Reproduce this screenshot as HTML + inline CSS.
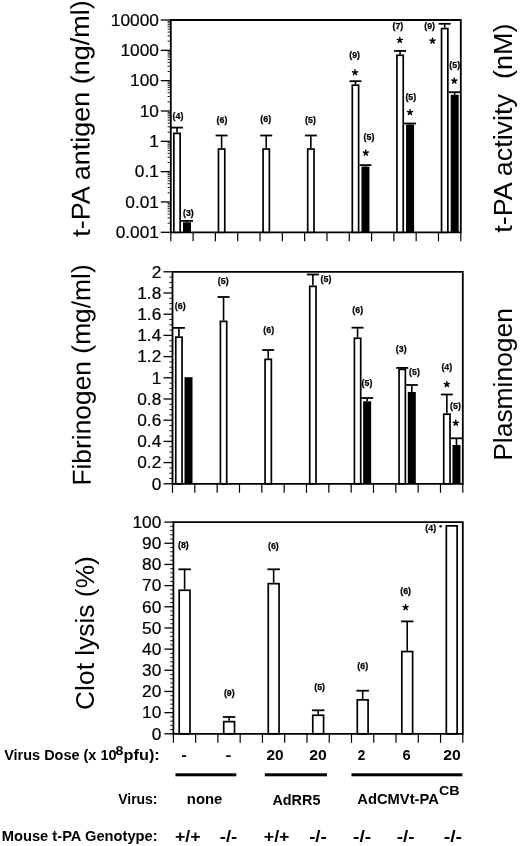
<!DOCTYPE html>
<html><head><meta charset="utf-8"><style>
html,body{margin:0;padding:0;background:#fff;}
svg{display:block;}
text{font-family:"Liberation Sans", sans-serif;fill:#000;}
svg{filter:grayscale(1);}
</style></head><body>
<svg width="520" height="846" viewBox="0 0 520 846">
<rect width="520" height="846" fill="#fff"/>
<path d="M170.80 20.00 H460.80 V232.30 H170.80 Z" fill="none" stroke="#000" stroke-width="1.80"/>
<line x1="170.80" y1="232.30" x2="170.80" y2="241.30" stroke="#000" stroke-width="1.2"/>
<line x1="193.11" y1="232.30" x2="193.11" y2="241.30" stroke="#000" stroke-width="1.2"/>
<line x1="215.42" y1="232.30" x2="215.42" y2="241.30" stroke="#000" stroke-width="1.2"/>
<line x1="237.72" y1="232.30" x2="237.72" y2="241.30" stroke="#000" stroke-width="1.2"/>
<line x1="260.03" y1="232.30" x2="260.03" y2="241.30" stroke="#000" stroke-width="1.2"/>
<line x1="282.34" y1="232.30" x2="282.34" y2="241.30" stroke="#000" stroke-width="1.2"/>
<line x1="304.65" y1="232.30" x2="304.65" y2="241.30" stroke="#000" stroke-width="1.2"/>
<line x1="326.95" y1="232.30" x2="326.95" y2="241.30" stroke="#000" stroke-width="1.2"/>
<line x1="349.26" y1="232.30" x2="349.26" y2="241.30" stroke="#000" stroke-width="1.2"/>
<line x1="371.57" y1="232.30" x2="371.57" y2="241.30" stroke="#000" stroke-width="1.2"/>
<line x1="393.88" y1="232.30" x2="393.88" y2="241.30" stroke="#000" stroke-width="1.2"/>
<line x1="416.18" y1="232.30" x2="416.18" y2="241.30" stroke="#000" stroke-width="1.2"/>
<line x1="438.49" y1="232.30" x2="438.49" y2="241.30" stroke="#000" stroke-width="1.2"/>
<line x1="460.80" y1="232.30" x2="460.80" y2="241.30" stroke="#000" stroke-width="1.2"/>
<line x1="160.80" y1="20.00" x2="170.80" y2="20.00" stroke="#000" stroke-width="1.3"/>
<text x="158.90" y="25.73" font-size="16" text-anchor="end" textLength="48.05" lengthAdjust="spacingAndGlyphs" stroke="#000" stroke-width="0.2">10000</text>
<line x1="167.60" y1="41.20" x2="170.80" y2="41.20" stroke="#000" stroke-width="0.9"/>
<line x1="167.60" y1="35.86" x2="170.80" y2="35.86" stroke="#000" stroke-width="0.9"/>
<line x1="167.60" y1="32.07" x2="170.80" y2="32.07" stroke="#000" stroke-width="0.9"/>
<line x1="167.60" y1="29.13" x2="170.80" y2="29.13" stroke="#000" stroke-width="0.9"/>
<line x1="167.60" y1="26.73" x2="170.80" y2="26.73" stroke="#000" stroke-width="0.9"/>
<line x1="167.60" y1="24.70" x2="170.80" y2="24.70" stroke="#000" stroke-width="0.9"/>
<line x1="167.60" y1="22.94" x2="170.80" y2="22.94" stroke="#000" stroke-width="0.9"/>
<line x1="167.60" y1="21.39" x2="170.80" y2="21.39" stroke="#000" stroke-width="0.9"/>
<line x1="160.80" y1="50.33" x2="170.80" y2="50.33" stroke="#000" stroke-width="1.3"/>
<text x="158.90" y="56.06" font-size="16" text-anchor="end" textLength="38.44" lengthAdjust="spacingAndGlyphs" stroke="#000" stroke-width="0.2">1000</text>
<line x1="167.60" y1="71.53" x2="170.80" y2="71.53" stroke="#000" stroke-width="0.9"/>
<line x1="167.60" y1="66.19" x2="170.80" y2="66.19" stroke="#000" stroke-width="0.9"/>
<line x1="167.60" y1="62.40" x2="170.80" y2="62.40" stroke="#000" stroke-width="0.9"/>
<line x1="167.60" y1="59.46" x2="170.80" y2="59.46" stroke="#000" stroke-width="0.9"/>
<line x1="167.60" y1="57.06" x2="170.80" y2="57.06" stroke="#000" stroke-width="0.9"/>
<line x1="167.60" y1="55.03" x2="170.80" y2="55.03" stroke="#000" stroke-width="0.9"/>
<line x1="167.60" y1="53.27" x2="170.80" y2="53.27" stroke="#000" stroke-width="0.9"/>
<line x1="167.60" y1="51.72" x2="170.80" y2="51.72" stroke="#000" stroke-width="0.9"/>
<line x1="160.80" y1="80.66" x2="170.80" y2="80.66" stroke="#000" stroke-width="1.3"/>
<text x="158.90" y="86.39" font-size="16" text-anchor="end" textLength="28.83" lengthAdjust="spacingAndGlyphs" stroke="#000" stroke-width="0.2">100</text>
<line x1="167.60" y1="101.86" x2="170.80" y2="101.86" stroke="#000" stroke-width="0.9"/>
<line x1="167.60" y1="96.52" x2="170.80" y2="96.52" stroke="#000" stroke-width="0.9"/>
<line x1="167.60" y1="92.73" x2="170.80" y2="92.73" stroke="#000" stroke-width="0.9"/>
<line x1="167.60" y1="89.79" x2="170.80" y2="89.79" stroke="#000" stroke-width="0.9"/>
<line x1="167.60" y1="87.39" x2="170.80" y2="87.39" stroke="#000" stroke-width="0.9"/>
<line x1="167.60" y1="85.36" x2="170.80" y2="85.36" stroke="#000" stroke-width="0.9"/>
<line x1="167.60" y1="83.60" x2="170.80" y2="83.60" stroke="#000" stroke-width="0.9"/>
<line x1="167.60" y1="82.04" x2="170.80" y2="82.04" stroke="#000" stroke-width="0.9"/>
<line x1="160.80" y1="110.99" x2="170.80" y2="110.99" stroke="#000" stroke-width="1.3"/>
<text x="158.90" y="116.71" font-size="16" text-anchor="end" textLength="19.22" lengthAdjust="spacingAndGlyphs" stroke="#000" stroke-width="0.2">10</text>
<line x1="167.60" y1="132.18" x2="170.80" y2="132.18" stroke="#000" stroke-width="0.9"/>
<line x1="167.60" y1="126.84" x2="170.80" y2="126.84" stroke="#000" stroke-width="0.9"/>
<line x1="167.60" y1="123.05" x2="170.80" y2="123.05" stroke="#000" stroke-width="0.9"/>
<line x1="167.60" y1="120.12" x2="170.80" y2="120.12" stroke="#000" stroke-width="0.9"/>
<line x1="167.60" y1="117.71" x2="170.80" y2="117.71" stroke="#000" stroke-width="0.9"/>
<line x1="167.60" y1="115.68" x2="170.80" y2="115.68" stroke="#000" stroke-width="0.9"/>
<line x1="167.60" y1="113.92" x2="170.80" y2="113.92" stroke="#000" stroke-width="0.9"/>
<line x1="167.60" y1="112.37" x2="170.80" y2="112.37" stroke="#000" stroke-width="0.9"/>
<line x1="160.80" y1="141.31" x2="170.80" y2="141.31" stroke="#000" stroke-width="1.3"/>
<text x="158.90" y="147.04" font-size="16" text-anchor="end" textLength="9.61" lengthAdjust="spacingAndGlyphs" stroke="#000" stroke-width="0.2">1</text>
<line x1="167.60" y1="162.51" x2="170.80" y2="162.51" stroke="#000" stroke-width="0.9"/>
<line x1="167.60" y1="157.17" x2="170.80" y2="157.17" stroke="#000" stroke-width="0.9"/>
<line x1="167.60" y1="153.38" x2="170.80" y2="153.38" stroke="#000" stroke-width="0.9"/>
<line x1="167.60" y1="150.44" x2="170.80" y2="150.44" stroke="#000" stroke-width="0.9"/>
<line x1="167.60" y1="148.04" x2="170.80" y2="148.04" stroke="#000" stroke-width="0.9"/>
<line x1="167.60" y1="146.01" x2="170.80" y2="146.01" stroke="#000" stroke-width="0.9"/>
<line x1="167.60" y1="144.25" x2="170.80" y2="144.25" stroke="#000" stroke-width="0.9"/>
<line x1="167.60" y1="142.70" x2="170.80" y2="142.70" stroke="#000" stroke-width="0.9"/>
<line x1="160.80" y1="171.64" x2="170.80" y2="171.64" stroke="#000" stroke-width="1.3"/>
<text x="158.90" y="177.37" font-size="16" text-anchor="end" textLength="24.02" lengthAdjust="spacingAndGlyphs" stroke="#000" stroke-width="0.2">0.1</text>
<line x1="167.60" y1="192.84" x2="170.80" y2="192.84" stroke="#000" stroke-width="0.9"/>
<line x1="167.60" y1="187.50" x2="170.80" y2="187.50" stroke="#000" stroke-width="0.9"/>
<line x1="167.60" y1="183.71" x2="170.80" y2="183.71" stroke="#000" stroke-width="0.9"/>
<line x1="167.60" y1="180.77" x2="170.80" y2="180.77" stroke="#000" stroke-width="0.9"/>
<line x1="167.60" y1="178.37" x2="170.80" y2="178.37" stroke="#000" stroke-width="0.9"/>
<line x1="167.60" y1="176.34" x2="170.80" y2="176.34" stroke="#000" stroke-width="0.9"/>
<line x1="167.60" y1="174.58" x2="170.80" y2="174.58" stroke="#000" stroke-width="0.9"/>
<line x1="167.60" y1="173.03" x2="170.80" y2="173.03" stroke="#000" stroke-width="0.9"/>
<line x1="160.80" y1="201.97" x2="170.80" y2="201.97" stroke="#000" stroke-width="1.3"/>
<text x="158.90" y="207.70" font-size="16" text-anchor="end" textLength="33.63" lengthAdjust="spacingAndGlyphs" stroke="#000" stroke-width="0.2">0.01</text>
<line x1="167.60" y1="223.17" x2="170.80" y2="223.17" stroke="#000" stroke-width="0.9"/>
<line x1="167.60" y1="217.83" x2="170.80" y2="217.83" stroke="#000" stroke-width="0.9"/>
<line x1="167.60" y1="214.04" x2="170.80" y2="214.04" stroke="#000" stroke-width="0.9"/>
<line x1="167.60" y1="211.10" x2="170.80" y2="211.10" stroke="#000" stroke-width="0.9"/>
<line x1="167.60" y1="208.70" x2="170.80" y2="208.70" stroke="#000" stroke-width="0.9"/>
<line x1="167.60" y1="206.67" x2="170.80" y2="206.67" stroke="#000" stroke-width="0.9"/>
<line x1="167.60" y1="204.91" x2="170.80" y2="204.91" stroke="#000" stroke-width="0.9"/>
<line x1="167.60" y1="203.36" x2="170.80" y2="203.36" stroke="#000" stroke-width="0.9"/>
<line x1="160.80" y1="232.30" x2="170.80" y2="232.30" stroke="#000" stroke-width="1.3"/>
<text x="158.90" y="238.03" font-size="16" text-anchor="end" textLength="43.24" lengthAdjust="spacingAndGlyphs" stroke="#000" stroke-width="0.2">0.001</text>
<line x1="177.00" y1="127.60" x2="177.00" y2="132.50" stroke="#000" stroke-width="1.6"/>
<line x1="171.00" y1="127.60" x2="183.00" y2="127.60" stroke="#000" stroke-width="1.8"/>
<rect x="173.85" y="133.35" width="6.30" height="98.95" fill="#fff" stroke="#000" stroke-width="1.70"/>
<line x1="221.62" y1="135.50" x2="221.62" y2="148.20" stroke="#000" stroke-width="1.6"/>
<line x1="215.62" y1="135.50" x2="227.62" y2="135.50" stroke="#000" stroke-width="1.8"/>
<rect x="218.47" y="149.05" width="6.30" height="83.25" fill="#fff" stroke="#000" stroke-width="1.70"/>
<line x1="266.23" y1="135.50" x2="266.23" y2="148.20" stroke="#000" stroke-width="1.6"/>
<line x1="260.23" y1="135.50" x2="272.23" y2="135.50" stroke="#000" stroke-width="1.8"/>
<rect x="263.08" y="149.05" width="6.30" height="83.25" fill="#fff" stroke="#000" stroke-width="1.70"/>
<line x1="310.85" y1="135.50" x2="310.85" y2="148.20" stroke="#000" stroke-width="1.6"/>
<line x1="304.85" y1="135.50" x2="316.85" y2="135.50" stroke="#000" stroke-width="1.8"/>
<rect x="307.70" y="149.05" width="6.30" height="83.25" fill="#fff" stroke="#000" stroke-width="1.70"/>
<line x1="355.46" y1="81.20" x2="355.46" y2="84.30" stroke="#000" stroke-width="1.6"/>
<line x1="349.46" y1="81.20" x2="361.46" y2="81.20" stroke="#000" stroke-width="1.8"/>
<rect x="352.31" y="85.15" width="6.30" height="147.15" fill="#fff" stroke="#000" stroke-width="1.70"/>
<line x1="400.08" y1="50.90" x2="400.08" y2="54.40" stroke="#000" stroke-width="1.6"/>
<line x1="394.08" y1="50.90" x2="406.08" y2="50.90" stroke="#000" stroke-width="1.8"/>
<rect x="396.93" y="55.25" width="6.30" height="177.05" fill="#fff" stroke="#000" stroke-width="1.70"/>
<line x1="444.69" y1="23.80" x2="444.69" y2="27.70" stroke="#000" stroke-width="1.6"/>
<line x1="438.69" y1="23.80" x2="450.69" y2="23.80" stroke="#000" stroke-width="1.8"/>
<rect x="441.54" y="28.55" width="6.30" height="203.75" fill="#fff" stroke="#000" stroke-width="1.70"/>
<line x1="187.00" y1="220.90" x2="187.00" y2="222.30" stroke="#000" stroke-width="1.6"/>
<line x1="181.00" y1="220.90" x2="193.00" y2="220.90" stroke="#000" stroke-width="1.8"/>
<rect x="183.00" y="222.30" width="8.00" height="10.00" fill="#000"/>
<line x1="365.46" y1="165.10" x2="365.46" y2="166.60" stroke="#000" stroke-width="1.6"/>
<line x1="359.46" y1="165.10" x2="371.46" y2="165.10" stroke="#000" stroke-width="1.8"/>
<rect x="361.46" y="166.60" width="8.00" height="65.70" fill="#000"/>
<line x1="410.08" y1="123.50" x2="410.08" y2="124.60" stroke="#000" stroke-width="1.6"/>
<line x1="404.08" y1="123.50" x2="416.08" y2="123.50" stroke="#000" stroke-width="1.8"/>
<rect x="406.08" y="124.60" width="8.00" height="107.70" fill="#000"/>
<line x1="454.69" y1="92.20" x2="454.69" y2="94.70" stroke="#000" stroke-width="1.6"/>
<line x1="448.69" y1="92.20" x2="460.69" y2="92.20" stroke="#000" stroke-width="1.8"/>
<rect x="450.69" y="94.70" width="8.00" height="137.60" fill="#000"/>
<text x="178.00" y="119.20" font-size="8.8" font-weight="bold" text-anchor="middle" stroke="#000" stroke-width="0.25">(4)</text>
<text x="188.40" y="215.60" font-size="8.8" font-weight="bold" text-anchor="middle" stroke="#000" stroke-width="0.25">(3)</text>
<text x="222.00" y="123.30" font-size="8.8" font-weight="bold" text-anchor="middle" stroke="#000" stroke-width="0.25">(6)</text>
<text x="265.70" y="122.40" font-size="8.8" font-weight="bold" text-anchor="middle" stroke="#000" stroke-width="0.25">(6)</text>
<text x="310.50" y="123.30" font-size="8.8" font-weight="bold" text-anchor="middle" stroke="#000" stroke-width="0.25">(5)</text>
<text x="354.60" y="58.10" font-size="8.8" font-weight="bold" text-anchor="middle" stroke="#000" stroke-width="0.25">(9)</text>
<path d="M355.00 72.50L355.00 69.85M355.00 72.50L357.52 71.68M355.00 72.50L356.56 74.65M355.00 72.50L353.44 74.65M355.00 72.50L352.48 71.68" stroke="#000" stroke-width="1.50" stroke-linecap="round" fill="none"/>
<text x="369.00" y="140.30" font-size="8.8" font-weight="bold" text-anchor="middle" stroke="#000" stroke-width="0.25">(5)</text>
<path d="M365.80 152.80L365.80 150.15M365.80 152.80L368.32 151.98M365.80 152.80L367.36 154.95M365.80 152.80L364.24 154.95M365.80 152.80L363.28 151.98" stroke="#000" stroke-width="1.50" stroke-linecap="round" fill="none"/>
<text x="397.90" y="29.30" font-size="8.8" font-weight="bold" text-anchor="middle" stroke="#000" stroke-width="0.25">(7)</text>
<path d="M399.80 40.20L399.80 37.55M399.80 40.20L402.32 39.38M399.80 40.20L401.36 42.35M399.80 40.20L398.24 42.35M399.80 40.20L397.28 39.38" stroke="#000" stroke-width="1.50" stroke-linecap="round" fill="none"/>
<text x="410.80" y="100.00" font-size="8.8" font-weight="bold" text-anchor="middle" stroke="#000" stroke-width="0.25">(5)</text>
<path d="M410.00 112.30L410.00 109.65M410.00 112.30L412.52 111.48M410.00 112.30L411.56 114.45M410.00 112.30L408.44 114.45M410.00 112.30L407.48 111.48" stroke="#000" stroke-width="1.50" stroke-linecap="round" fill="none"/>
<text x="429.60" y="29.30" font-size="8.8" font-weight="bold" text-anchor="middle" stroke="#000" stroke-width="0.25">(9)</text>
<path d="M432.50 40.90L432.50 38.25M432.50 40.90L435.02 40.08M432.50 40.90L434.06 43.05M432.50 40.90L430.94 43.05M432.50 40.90L429.98 40.08" stroke="#000" stroke-width="1.50" stroke-linecap="round" fill="none"/>
<text x="454.70" y="68.00" font-size="8.8" font-weight="bold" text-anchor="middle" stroke="#000" stroke-width="0.25">(5)</text>
<path d="M454.30 80.80L454.30 78.15M454.30 80.80L456.82 79.98M454.30 80.80L455.86 82.95M454.30 80.80L452.74 82.95M454.30 80.80L451.78 79.98" stroke="#000" stroke-width="1.50" stroke-linecap="round" fill="none"/>
<text transform="translate(89.90 236.70) rotate(-90.25)" font-size="26" textLength="236.52" lengthAdjust="spacingAndGlyphs" xml:space="preserve">t-PA antigen (ng/ml)</text>
<text transform="translate(511.50 232.70) rotate(-90.00)" font-size="26" textLength="209.07" lengthAdjust="spacingAndGlyphs" xml:space="preserve">t-PA activity  (nM)</text>
<path d="M172.50 271.80 H462.80 V483.80 H172.50 Z" fill="none" stroke="#000" stroke-width="1.80"/>
<line x1="172.50" y1="483.80" x2="172.50" y2="492.80" stroke="#000" stroke-width="1.2"/>
<line x1="194.83" y1="483.80" x2="194.83" y2="492.80" stroke="#000" stroke-width="1.2"/>
<line x1="217.16" y1="483.80" x2="217.16" y2="492.80" stroke="#000" stroke-width="1.2"/>
<line x1="239.49" y1="483.80" x2="239.49" y2="492.80" stroke="#000" stroke-width="1.2"/>
<line x1="261.82" y1="483.80" x2="261.82" y2="492.80" stroke="#000" stroke-width="1.2"/>
<line x1="284.15" y1="483.80" x2="284.15" y2="492.80" stroke="#000" stroke-width="1.2"/>
<line x1="306.48" y1="483.80" x2="306.48" y2="492.80" stroke="#000" stroke-width="1.2"/>
<line x1="328.82" y1="483.80" x2="328.82" y2="492.80" stroke="#000" stroke-width="1.2"/>
<line x1="351.15" y1="483.80" x2="351.15" y2="492.80" stroke="#000" stroke-width="1.2"/>
<line x1="373.48" y1="483.80" x2="373.48" y2="492.80" stroke="#000" stroke-width="1.2"/>
<line x1="395.81" y1="483.80" x2="395.81" y2="492.80" stroke="#000" stroke-width="1.2"/>
<line x1="418.14" y1="483.80" x2="418.14" y2="492.80" stroke="#000" stroke-width="1.2"/>
<line x1="440.47" y1="483.80" x2="440.47" y2="492.80" stroke="#000" stroke-width="1.2"/>
<line x1="462.80" y1="483.80" x2="462.80" y2="492.80" stroke="#000" stroke-width="1.2"/>
<line x1="163.50" y1="271.80" x2="172.50" y2="271.80" stroke="#000" stroke-width="1.3"/>
<text x="161.30" y="277.53" font-size="16" text-anchor="end" textLength="9.61" lengthAdjust="spacingAndGlyphs" stroke="#000" stroke-width="0.2">2</text>
<line x1="169.30" y1="277.10" x2="172.50" y2="277.10" stroke="#000" stroke-width="0.9"/>
<line x1="169.30" y1="282.40" x2="172.50" y2="282.40" stroke="#000" stroke-width="0.9"/>
<line x1="169.30" y1="287.70" x2="172.50" y2="287.70" stroke="#000" stroke-width="0.9"/>
<line x1="163.50" y1="293.00" x2="172.50" y2="293.00" stroke="#000" stroke-width="1.3"/>
<text x="161.30" y="298.73" font-size="16" text-anchor="end" textLength="24.02" lengthAdjust="spacingAndGlyphs" stroke="#000" stroke-width="0.2">1.8</text>
<line x1="169.30" y1="298.30" x2="172.50" y2="298.30" stroke="#000" stroke-width="0.9"/>
<line x1="169.30" y1="303.60" x2="172.50" y2="303.60" stroke="#000" stroke-width="0.9"/>
<line x1="169.30" y1="308.90" x2="172.50" y2="308.90" stroke="#000" stroke-width="0.9"/>
<line x1="163.50" y1="314.20" x2="172.50" y2="314.20" stroke="#000" stroke-width="1.3"/>
<text x="161.30" y="319.93" font-size="16" text-anchor="end" textLength="24.02" lengthAdjust="spacingAndGlyphs" stroke="#000" stroke-width="0.2">1.6</text>
<line x1="169.30" y1="319.50" x2="172.50" y2="319.50" stroke="#000" stroke-width="0.9"/>
<line x1="169.30" y1="324.80" x2="172.50" y2="324.80" stroke="#000" stroke-width="0.9"/>
<line x1="169.30" y1="330.10" x2="172.50" y2="330.10" stroke="#000" stroke-width="0.9"/>
<line x1="163.50" y1="335.40" x2="172.50" y2="335.40" stroke="#000" stroke-width="1.3"/>
<text x="161.30" y="341.13" font-size="16" text-anchor="end" textLength="24.02" lengthAdjust="spacingAndGlyphs" stroke="#000" stroke-width="0.2">1.4</text>
<line x1="169.30" y1="340.70" x2="172.50" y2="340.70" stroke="#000" stroke-width="0.9"/>
<line x1="169.30" y1="346.00" x2="172.50" y2="346.00" stroke="#000" stroke-width="0.9"/>
<line x1="169.30" y1="351.30" x2="172.50" y2="351.30" stroke="#000" stroke-width="0.9"/>
<line x1="163.50" y1="356.60" x2="172.50" y2="356.60" stroke="#000" stroke-width="1.3"/>
<text x="161.30" y="362.33" font-size="16" text-anchor="end" textLength="24.02" lengthAdjust="spacingAndGlyphs" stroke="#000" stroke-width="0.2">1.2</text>
<line x1="169.30" y1="361.90" x2="172.50" y2="361.90" stroke="#000" stroke-width="0.9"/>
<line x1="169.30" y1="367.20" x2="172.50" y2="367.20" stroke="#000" stroke-width="0.9"/>
<line x1="169.30" y1="372.50" x2="172.50" y2="372.50" stroke="#000" stroke-width="0.9"/>
<line x1="163.50" y1="377.80" x2="172.50" y2="377.80" stroke="#000" stroke-width="1.3"/>
<text x="161.30" y="383.53" font-size="16" text-anchor="end" textLength="9.61" lengthAdjust="spacingAndGlyphs" stroke="#000" stroke-width="0.2">1</text>
<line x1="169.30" y1="383.10" x2="172.50" y2="383.10" stroke="#000" stroke-width="0.9"/>
<line x1="169.30" y1="388.40" x2="172.50" y2="388.40" stroke="#000" stroke-width="0.9"/>
<line x1="169.30" y1="393.70" x2="172.50" y2="393.70" stroke="#000" stroke-width="0.9"/>
<line x1="163.50" y1="399.00" x2="172.50" y2="399.00" stroke="#000" stroke-width="1.3"/>
<text x="161.30" y="404.73" font-size="16" text-anchor="end" textLength="24.02" lengthAdjust="spacingAndGlyphs" stroke="#000" stroke-width="0.2">0.8</text>
<line x1="169.30" y1="404.30" x2="172.50" y2="404.30" stroke="#000" stroke-width="0.9"/>
<line x1="169.30" y1="409.60" x2="172.50" y2="409.60" stroke="#000" stroke-width="0.9"/>
<line x1="169.30" y1="414.90" x2="172.50" y2="414.90" stroke="#000" stroke-width="0.9"/>
<line x1="163.50" y1="420.20" x2="172.50" y2="420.20" stroke="#000" stroke-width="1.3"/>
<text x="161.30" y="425.93" font-size="16" text-anchor="end" textLength="24.02" lengthAdjust="spacingAndGlyphs" stroke="#000" stroke-width="0.2">0.6</text>
<line x1="169.30" y1="425.50" x2="172.50" y2="425.50" stroke="#000" stroke-width="0.9"/>
<line x1="169.30" y1="430.80" x2="172.50" y2="430.80" stroke="#000" stroke-width="0.9"/>
<line x1="169.30" y1="436.10" x2="172.50" y2="436.10" stroke="#000" stroke-width="0.9"/>
<line x1="163.50" y1="441.40" x2="172.50" y2="441.40" stroke="#000" stroke-width="1.3"/>
<text x="161.30" y="447.13" font-size="16" text-anchor="end" textLength="24.02" lengthAdjust="spacingAndGlyphs" stroke="#000" stroke-width="0.2">0.4</text>
<line x1="169.30" y1="446.70" x2="172.50" y2="446.70" stroke="#000" stroke-width="0.9"/>
<line x1="169.30" y1="452.00" x2="172.50" y2="452.00" stroke="#000" stroke-width="0.9"/>
<line x1="169.30" y1="457.30" x2="172.50" y2="457.30" stroke="#000" stroke-width="0.9"/>
<line x1="163.50" y1="462.60" x2="172.50" y2="462.60" stroke="#000" stroke-width="1.3"/>
<text x="161.30" y="468.33" font-size="16" text-anchor="end" textLength="24.02" lengthAdjust="spacingAndGlyphs" stroke="#000" stroke-width="0.2">0.2</text>
<line x1="169.30" y1="467.90" x2="172.50" y2="467.90" stroke="#000" stroke-width="0.9"/>
<line x1="169.30" y1="473.20" x2="172.50" y2="473.20" stroke="#000" stroke-width="0.9"/>
<line x1="169.30" y1="478.50" x2="172.50" y2="478.50" stroke="#000" stroke-width="0.9"/>
<line x1="163.50" y1="483.80" x2="172.50" y2="483.80" stroke="#000" stroke-width="1.3"/>
<text x="161.30" y="489.53" font-size="16" text-anchor="end" textLength="9.61" lengthAdjust="spacingAndGlyphs" stroke="#000" stroke-width="0.2">0</text>
<line x1="178.90" y1="327.90" x2="178.90" y2="336.30" stroke="#000" stroke-width="1.6"/>
<line x1="172.90" y1="327.90" x2="184.90" y2="327.90" stroke="#000" stroke-width="1.8"/>
<rect x="175.75" y="337.15" width="6.30" height="146.65" fill="#fff" stroke="#000" stroke-width="1.70"/>
<line x1="223.56" y1="297.00" x2="223.56" y2="320.50" stroke="#000" stroke-width="1.6"/>
<line x1="217.56" y1="297.00" x2="229.56" y2="297.00" stroke="#000" stroke-width="1.8"/>
<rect x="220.41" y="321.35" width="6.30" height="162.45" fill="#fff" stroke="#000" stroke-width="1.70"/>
<line x1="268.22" y1="350.00" x2="268.22" y2="358.50" stroke="#000" stroke-width="1.6"/>
<line x1="262.22" y1="350.00" x2="274.22" y2="350.00" stroke="#000" stroke-width="1.8"/>
<rect x="265.07" y="359.35" width="6.30" height="124.45" fill="#fff" stroke="#000" stroke-width="1.70"/>
<line x1="312.88" y1="274.50" x2="312.88" y2="285.50" stroke="#000" stroke-width="1.6"/>
<line x1="306.88" y1="274.50" x2="318.88" y2="274.50" stroke="#000" stroke-width="1.8"/>
<rect x="309.73" y="286.35" width="6.30" height="197.45" fill="#fff" stroke="#000" stroke-width="1.70"/>
<line x1="357.55" y1="327.70" x2="357.55" y2="337.40" stroke="#000" stroke-width="1.6"/>
<line x1="351.55" y1="327.70" x2="363.55" y2="327.70" stroke="#000" stroke-width="1.8"/>
<rect x="354.40" y="338.25" width="6.30" height="145.55" fill="#fff" stroke="#000" stroke-width="1.70"/>
<line x1="402.21" y1="367.90" x2="402.21" y2="368.50" stroke="#000" stroke-width="1.6"/>
<line x1="396.21" y1="367.90" x2="408.21" y2="367.90" stroke="#000" stroke-width="1.8"/>
<rect x="399.06" y="369.35" width="6.30" height="114.45" fill="#fff" stroke="#000" stroke-width="1.70"/>
<line x1="446.87" y1="394.50" x2="446.87" y2="413.30" stroke="#000" stroke-width="1.6"/>
<line x1="440.87" y1="394.50" x2="452.87" y2="394.50" stroke="#000" stroke-width="1.8"/>
<rect x="443.72" y="414.15" width="6.30" height="69.65" fill="#fff" stroke="#000" stroke-width="1.70"/>
<rect x="184.50" y="377.20" width="8.00" height="106.60" fill="#000"/>
<line x1="367.15" y1="398.00" x2="367.15" y2="401.30" stroke="#000" stroke-width="1.6"/>
<line x1="361.15" y1="398.00" x2="373.15" y2="398.00" stroke="#000" stroke-width="1.8"/>
<rect x="363.15" y="401.30" width="8.00" height="82.50" fill="#000"/>
<line x1="411.81" y1="385.00" x2="411.81" y2="392.00" stroke="#000" stroke-width="1.6"/>
<line x1="405.81" y1="385.00" x2="417.81" y2="385.00" stroke="#000" stroke-width="1.8"/>
<rect x="407.81" y="392.00" width="8.00" height="91.80" fill="#000"/>
<line x1="456.47" y1="438.30" x2="456.47" y2="445.00" stroke="#000" stroke-width="1.6"/>
<line x1="450.47" y1="438.30" x2="462.47" y2="438.30" stroke="#000" stroke-width="1.8"/>
<rect x="452.47" y="445.00" width="8.00" height="38.80" fill="#000"/>
<text x="180.20" y="308.80" font-size="8.8" font-weight="bold" text-anchor="middle" stroke="#000" stroke-width="0.25">(6)</text>
<text x="223.20" y="284.40" font-size="8.8" font-weight="bold" text-anchor="middle" stroke="#000" stroke-width="0.25">(5)</text>
<text x="268.70" y="333.10" font-size="8.8" font-weight="bold" text-anchor="middle" stroke="#000" stroke-width="0.25">(6)</text>
<text x="326.00" y="282.10" font-size="8.8" font-weight="bold" text-anchor="middle" stroke="#000" stroke-width="0.25">(5)</text>
<text x="357.70" y="313.40" font-size="8.8" font-weight="bold" text-anchor="middle" stroke="#000" stroke-width="0.25">(6)</text>
<text x="367.00" y="385.90" font-size="8.8" font-weight="bold" text-anchor="middle" stroke="#000" stroke-width="0.25">(5)</text>
<text x="401.20" y="351.80" font-size="8.8" font-weight="bold" text-anchor="middle" stroke="#000" stroke-width="0.25">(3)</text>
<text x="414.50" y="375.40" font-size="8.8" font-weight="bold" text-anchor="middle" stroke="#000" stroke-width="0.25">(5)</text>
<text x="446.80" y="370.10" font-size="8.8" font-weight="bold" text-anchor="middle" stroke="#000" stroke-width="0.25">(4)</text>
<path d="M446.80 384.30L446.80 381.65M446.80 384.30L449.32 383.48M446.80 384.30L448.36 386.45M446.80 384.30L445.24 386.45M446.80 384.30L444.28 383.48" stroke="#000" stroke-width="1.50" stroke-linecap="round" fill="none"/>
<text x="455.50" y="409.40" font-size="8.8" font-weight="bold" text-anchor="middle" stroke="#000" stroke-width="0.25">(5)</text>
<path d="M455.80 423.00L455.80 420.35M455.80 423.00L458.32 422.18M455.80 423.00L457.36 425.15M455.80 423.00L454.24 425.15M455.80 423.00L453.28 422.18" stroke="#000" stroke-width="1.50" stroke-linecap="round" fill="none"/>
<text transform="translate(90.80 485.61) rotate(-90.20)" font-size="26" textLength="221.33" lengthAdjust="spacingAndGlyphs" xml:space="preserve">Fibrinogen (mg/ml)</text>
<text transform="translate(511.80 460.81) rotate(-90.00)" font-size="26" textLength="152.77" lengthAdjust="spacingAndGlyphs" xml:space="preserve">Plasminogen</text>
<path d="M173.40 522.10 H462.80 V733.80 H173.40 Z" fill="none" stroke="#000" stroke-width="1.80"/>
<line x1="173.40" y1="733.80" x2="173.40" y2="742.80" stroke="#000" stroke-width="1.2"/>
<line x1="195.66" y1="733.80" x2="195.66" y2="742.80" stroke="#000" stroke-width="1.2"/>
<line x1="217.92" y1="733.80" x2="217.92" y2="742.80" stroke="#000" stroke-width="1.2"/>
<line x1="240.18" y1="733.80" x2="240.18" y2="742.80" stroke="#000" stroke-width="1.2"/>
<line x1="262.45" y1="733.80" x2="262.45" y2="742.80" stroke="#000" stroke-width="1.2"/>
<line x1="284.71" y1="733.80" x2="284.71" y2="742.80" stroke="#000" stroke-width="1.2"/>
<line x1="306.97" y1="733.80" x2="306.97" y2="742.80" stroke="#000" stroke-width="1.2"/>
<line x1="329.23" y1="733.80" x2="329.23" y2="742.80" stroke="#000" stroke-width="1.2"/>
<line x1="351.49" y1="733.80" x2="351.49" y2="742.80" stroke="#000" stroke-width="1.2"/>
<line x1="373.75" y1="733.80" x2="373.75" y2="742.80" stroke="#000" stroke-width="1.2"/>
<line x1="396.02" y1="733.80" x2="396.02" y2="742.80" stroke="#000" stroke-width="1.2"/>
<line x1="418.28" y1="733.80" x2="418.28" y2="742.80" stroke="#000" stroke-width="1.2"/>
<line x1="440.54" y1="733.80" x2="440.54" y2="742.80" stroke="#000" stroke-width="1.2"/>
<line x1="462.80" y1="733.80" x2="462.80" y2="742.80" stroke="#000" stroke-width="1.2"/>
<line x1="164.40" y1="522.10" x2="173.40" y2="522.10" stroke="#000" stroke-width="1.3"/>
<text x="161.30" y="527.83" font-size="16" text-anchor="end" textLength="28.83" lengthAdjust="spacingAndGlyphs" stroke="#000" stroke-width="0.2">100</text>
<line x1="170.20" y1="526.33" x2="173.40" y2="526.33" stroke="#000" stroke-width="0.9"/>
<line x1="170.20" y1="530.57" x2="173.40" y2="530.57" stroke="#000" stroke-width="0.9"/>
<line x1="170.20" y1="534.80" x2="173.40" y2="534.80" stroke="#000" stroke-width="0.9"/>
<line x1="170.20" y1="539.04" x2="173.40" y2="539.04" stroke="#000" stroke-width="0.9"/>
<line x1="164.40" y1="543.27" x2="173.40" y2="543.27" stroke="#000" stroke-width="1.3"/>
<text x="161.30" y="549.00" font-size="16" text-anchor="end" textLength="19.22" lengthAdjust="spacingAndGlyphs" stroke="#000" stroke-width="0.2">90</text>
<line x1="170.20" y1="547.50" x2="173.40" y2="547.50" stroke="#000" stroke-width="0.9"/>
<line x1="170.20" y1="551.74" x2="173.40" y2="551.74" stroke="#000" stroke-width="0.9"/>
<line x1="170.20" y1="555.97" x2="173.40" y2="555.97" stroke="#000" stroke-width="0.9"/>
<line x1="170.20" y1="560.21" x2="173.40" y2="560.21" stroke="#000" stroke-width="0.9"/>
<line x1="164.40" y1="564.44" x2="173.40" y2="564.44" stroke="#000" stroke-width="1.3"/>
<text x="161.30" y="570.17" font-size="16" text-anchor="end" textLength="19.22" lengthAdjust="spacingAndGlyphs" stroke="#000" stroke-width="0.2">80</text>
<line x1="170.20" y1="568.67" x2="173.40" y2="568.67" stroke="#000" stroke-width="0.9"/>
<line x1="170.20" y1="572.91" x2="173.40" y2="572.91" stroke="#000" stroke-width="0.9"/>
<line x1="170.20" y1="577.14" x2="173.40" y2="577.14" stroke="#000" stroke-width="0.9"/>
<line x1="170.20" y1="581.38" x2="173.40" y2="581.38" stroke="#000" stroke-width="0.9"/>
<line x1="164.40" y1="585.61" x2="173.40" y2="585.61" stroke="#000" stroke-width="1.3"/>
<text x="161.30" y="591.34" font-size="16" text-anchor="end" textLength="19.22" lengthAdjust="spacingAndGlyphs" stroke="#000" stroke-width="0.2">70</text>
<line x1="170.20" y1="589.84" x2="173.40" y2="589.84" stroke="#000" stroke-width="0.9"/>
<line x1="170.20" y1="594.08" x2="173.40" y2="594.08" stroke="#000" stroke-width="0.9"/>
<line x1="170.20" y1="598.31" x2="173.40" y2="598.31" stroke="#000" stroke-width="0.9"/>
<line x1="170.20" y1="602.55" x2="173.40" y2="602.55" stroke="#000" stroke-width="0.9"/>
<line x1="164.40" y1="606.78" x2="173.40" y2="606.78" stroke="#000" stroke-width="1.3"/>
<text x="161.30" y="612.51" font-size="16" text-anchor="end" textLength="19.22" lengthAdjust="spacingAndGlyphs" stroke="#000" stroke-width="0.2">60</text>
<line x1="170.20" y1="611.01" x2="173.40" y2="611.01" stroke="#000" stroke-width="0.9"/>
<line x1="170.20" y1="615.25" x2="173.40" y2="615.25" stroke="#000" stroke-width="0.9"/>
<line x1="170.20" y1="619.48" x2="173.40" y2="619.48" stroke="#000" stroke-width="0.9"/>
<line x1="170.20" y1="623.72" x2="173.40" y2="623.72" stroke="#000" stroke-width="0.9"/>
<line x1="164.40" y1="627.95" x2="173.40" y2="627.95" stroke="#000" stroke-width="1.3"/>
<text x="161.30" y="633.68" font-size="16" text-anchor="end" textLength="19.22" lengthAdjust="spacingAndGlyphs" stroke="#000" stroke-width="0.2">50</text>
<line x1="170.20" y1="632.18" x2="173.40" y2="632.18" stroke="#000" stroke-width="0.9"/>
<line x1="170.20" y1="636.42" x2="173.40" y2="636.42" stroke="#000" stroke-width="0.9"/>
<line x1="170.20" y1="640.65" x2="173.40" y2="640.65" stroke="#000" stroke-width="0.9"/>
<line x1="170.20" y1="644.89" x2="173.40" y2="644.89" stroke="#000" stroke-width="0.9"/>
<line x1="164.40" y1="649.12" x2="173.40" y2="649.12" stroke="#000" stroke-width="1.3"/>
<text x="161.30" y="654.85" font-size="16" text-anchor="end" textLength="19.22" lengthAdjust="spacingAndGlyphs" stroke="#000" stroke-width="0.2">40</text>
<line x1="170.20" y1="653.35" x2="173.40" y2="653.35" stroke="#000" stroke-width="0.9"/>
<line x1="170.20" y1="657.59" x2="173.40" y2="657.59" stroke="#000" stroke-width="0.9"/>
<line x1="170.20" y1="661.82" x2="173.40" y2="661.82" stroke="#000" stroke-width="0.9"/>
<line x1="170.20" y1="666.06" x2="173.40" y2="666.06" stroke="#000" stroke-width="0.9"/>
<line x1="164.40" y1="670.29" x2="173.40" y2="670.29" stroke="#000" stroke-width="1.3"/>
<text x="161.30" y="676.02" font-size="16" text-anchor="end" textLength="19.22" lengthAdjust="spacingAndGlyphs" stroke="#000" stroke-width="0.2">30</text>
<line x1="170.20" y1="674.52" x2="173.40" y2="674.52" stroke="#000" stroke-width="0.9"/>
<line x1="170.20" y1="678.76" x2="173.40" y2="678.76" stroke="#000" stroke-width="0.9"/>
<line x1="170.20" y1="682.99" x2="173.40" y2="682.99" stroke="#000" stroke-width="0.9"/>
<line x1="170.20" y1="687.23" x2="173.40" y2="687.23" stroke="#000" stroke-width="0.9"/>
<line x1="164.40" y1="691.46" x2="173.40" y2="691.46" stroke="#000" stroke-width="1.3"/>
<text x="161.30" y="697.19" font-size="16" text-anchor="end" textLength="19.22" lengthAdjust="spacingAndGlyphs" stroke="#000" stroke-width="0.2">20</text>
<line x1="170.20" y1="695.69" x2="173.40" y2="695.69" stroke="#000" stroke-width="0.9"/>
<line x1="170.20" y1="699.93" x2="173.40" y2="699.93" stroke="#000" stroke-width="0.9"/>
<line x1="170.20" y1="704.16" x2="173.40" y2="704.16" stroke="#000" stroke-width="0.9"/>
<line x1="170.20" y1="708.40" x2="173.40" y2="708.40" stroke="#000" stroke-width="0.9"/>
<line x1="164.40" y1="712.63" x2="173.40" y2="712.63" stroke="#000" stroke-width="1.3"/>
<text x="161.30" y="718.36" font-size="16" text-anchor="end" textLength="19.22" lengthAdjust="spacingAndGlyphs" stroke="#000" stroke-width="0.2">10</text>
<line x1="170.20" y1="716.86" x2="173.40" y2="716.86" stroke="#000" stroke-width="0.9"/>
<line x1="170.20" y1="721.10" x2="173.40" y2="721.10" stroke="#000" stroke-width="0.9"/>
<line x1="170.20" y1="725.33" x2="173.40" y2="725.33" stroke="#000" stroke-width="0.9"/>
<line x1="170.20" y1="729.57" x2="173.40" y2="729.57" stroke="#000" stroke-width="0.9"/>
<line x1="164.40" y1="733.80" x2="173.40" y2="733.80" stroke="#000" stroke-width="1.3"/>
<text x="161.30" y="739.53" font-size="16" text-anchor="end" textLength="9.61" lengthAdjust="spacingAndGlyphs" stroke="#000" stroke-width="0.2">0</text>
<line x1="184.60" y1="569.30" x2="184.60" y2="589.40" stroke="#000" stroke-width="1.6"/>
<line x1="178.35" y1="569.30" x2="190.85" y2="569.30" stroke="#000" stroke-width="1.8"/>
<rect x="179.20" y="590.25" width="10.80" height="143.55" fill="#fff" stroke="#000" stroke-width="1.70"/>
<line x1="229.12" y1="717.00" x2="229.12" y2="720.80" stroke="#000" stroke-width="1.6"/>
<line x1="222.87" y1="717.00" x2="235.37" y2="717.00" stroke="#000" stroke-width="1.8"/>
<rect x="223.72" y="721.65" width="10.80" height="12.15" fill="#fff" stroke="#000" stroke-width="1.70"/>
<line x1="273.65" y1="569.30" x2="273.65" y2="582.80" stroke="#000" stroke-width="1.6"/>
<line x1="267.40" y1="569.30" x2="279.90" y2="569.30" stroke="#000" stroke-width="1.8"/>
<rect x="268.25" y="583.65" width="10.80" height="150.15" fill="#fff" stroke="#000" stroke-width="1.70"/>
<line x1="318.17" y1="710.30" x2="318.17" y2="714.40" stroke="#000" stroke-width="1.6"/>
<line x1="311.92" y1="710.30" x2="324.42" y2="710.30" stroke="#000" stroke-width="1.8"/>
<rect x="312.77" y="715.25" width="10.80" height="18.55" fill="#fff" stroke="#000" stroke-width="1.70"/>
<line x1="362.69" y1="690.70" x2="362.69" y2="699.00" stroke="#000" stroke-width="1.6"/>
<line x1="356.44" y1="690.70" x2="368.94" y2="690.70" stroke="#000" stroke-width="1.8"/>
<rect x="357.29" y="699.85" width="10.80" height="33.95" fill="#fff" stroke="#000" stroke-width="1.70"/>
<line x1="407.22" y1="621.40" x2="407.22" y2="650.70" stroke="#000" stroke-width="1.6"/>
<line x1="400.97" y1="621.40" x2="413.47" y2="621.40" stroke="#000" stroke-width="1.8"/>
<rect x="401.82" y="651.55" width="10.80" height="82.25" fill="#fff" stroke="#000" stroke-width="1.70"/>
<rect x="446.34" y="525.85" width="10.80" height="207.95" fill="#fff" stroke="#000" stroke-width="1.70"/>
<text x="183.40" y="548.40" font-size="8.8" font-weight="bold" text-anchor="middle" stroke="#000" stroke-width="0.25">(8)</text>
<text x="229.30" y="695.90" font-size="8.8" font-weight="bold" text-anchor="middle" stroke="#000" stroke-width="0.25">(9)</text>
<text x="273.40" y="548.60" font-size="8.8" font-weight="bold" text-anchor="middle" stroke="#000" stroke-width="0.25">(6)</text>
<text x="319.60" y="689.70" font-size="8.8" font-weight="bold" text-anchor="middle" stroke="#000" stroke-width="0.25">(5)</text>
<text x="362.70" y="668.50" font-size="8.8" font-weight="bold" text-anchor="middle" stroke="#000" stroke-width="0.25">(6)</text>
<text x="405.60" y="594.30" font-size="8.8" font-weight="bold" text-anchor="middle" stroke="#000" stroke-width="0.25">(6)</text>
<path d="M405.60 607.40L405.60 604.75M405.60 607.40L408.12 606.58M405.60 607.40L407.16 609.55M405.60 607.40L404.04 609.55M405.60 607.40L403.08 606.58" stroke="#000" stroke-width="1.50" stroke-linecap="round" fill="none"/>
<text x="430.70" y="531.20" font-size="8.8" font-weight="bold" text-anchor="middle" stroke="#000" stroke-width="0.25">(4)</text>
<circle cx="440.6" cy="526.3" r="1.2" fill="#000"/>
<text transform="translate(93.80 709.92) rotate(-90.00)" font-size="26" textLength="153.79" lengthAdjust="spacingAndGlyphs" xml:space="preserve">Clot lysis (%)</text>
<text x="4.23" y="760.30" font-size="14" font-weight="bold" textLength="112.30" lengthAdjust="spacingAndGlyphs">Virus Dose (x 10</text>
<text x="115.58" y="755.20" font-size="12" font-weight="bold" textLength="7.87" lengthAdjust="spacingAndGlyphs">8</text>
<text x="123.64" y="760.30" font-size="14" font-weight="bold" textLength="36.12" lengthAdjust="spacingAndGlyphs">pfu):</text>
<text x="118.23" y="803.70" font-size="14" font-weight="bold" textLength="39.31" lengthAdjust="spacingAndGlyphs">Virus:</text>
<text x="1.75" y="840.80" font-size="14" font-weight="bold" textLength="155.88" lengthAdjust="spacingAndGlyphs">Mouse t-PA Genotype:</text>
<text x="181.33" y="760.00" font-size="14" font-weight="bold" textLength="5.62" lengthAdjust="spacingAndGlyphs">-</text>
<text x="225.59" y="760.00" font-size="14" font-weight="bold" textLength="5.88" lengthAdjust="spacingAndGlyphs">-</text>
<text x="266.46" y="760.00" font-size="14" font-weight="bold" textLength="17.20" lengthAdjust="spacingAndGlyphs">20</text>
<text x="309.25" y="760.00" font-size="14" font-weight="bold" textLength="17.52" lengthAdjust="spacingAndGlyphs">20</text>
<text x="357.73" y="760.00" font-size="14" font-weight="bold" textLength="7.53" lengthAdjust="spacingAndGlyphs">2</text>
<text x="402.49" y="760.00" font-size="14" font-weight="bold" textLength="8.14" lengthAdjust="spacingAndGlyphs">6</text>
<text x="443.25" y="760.00" font-size="14" font-weight="bold" textLength="17.52" lengthAdjust="spacingAndGlyphs">20</text>
<rect x="175.5" y="773.3" width="60.8" height="3" fill="#000"/>
<rect x="264.8" y="773.3" width="62.2" height="3" fill="#000"/>
<rect x="351.5" y="773.3" width="110.9" height="3" fill="#000"/>
<text x="186.83" y="803.70" font-size="14" font-weight="bold" textLength="35.47" lengthAdjust="spacingAndGlyphs">none</text>
<text x="272.44" y="804.50" font-size="14" font-weight="bold" textLength="47.97" lengthAdjust="spacingAndGlyphs">AdRR5</text>
<text x="357.33" y="804.30" font-size="14" font-weight="bold" textLength="81.56" lengthAdjust="spacingAndGlyphs">AdCMVt-PA</text>
<text x="439.03" y="795.00" font-size="12" font-weight="bold" textLength="20.68" lengthAdjust="spacingAndGlyphs">CB</text>
<text x="174.99" y="842.00" font-size="16" font-weight="bold" textLength="25.63" lengthAdjust="spacingAndGlyphs">+/+</text>
<text x="219.76" y="842.00" font-size="16" font-weight="bold" textLength="17.57" lengthAdjust="spacingAndGlyphs">-/-</text>
<text x="263.79" y="842.00" font-size="16" font-weight="bold" textLength="25.74" lengthAdjust="spacingAndGlyphs">+/+</text>
<text x="309.15" y="842.00" font-size="16" font-weight="bold" textLength="17.68" lengthAdjust="spacingAndGlyphs">-/-</text>
<text x="353.03" y="842.00" font-size="16" font-weight="bold" textLength="18.22" lengthAdjust="spacingAndGlyphs">-/-</text>
<text x="396.75" y="842.00" font-size="16" font-weight="bold" textLength="17.79" lengthAdjust="spacingAndGlyphs">-/-</text>
<text x="443.72" y="842.00" font-size="16" font-weight="bold" textLength="18.33" lengthAdjust="spacingAndGlyphs">-/-</text>
</svg>
</body></html>
